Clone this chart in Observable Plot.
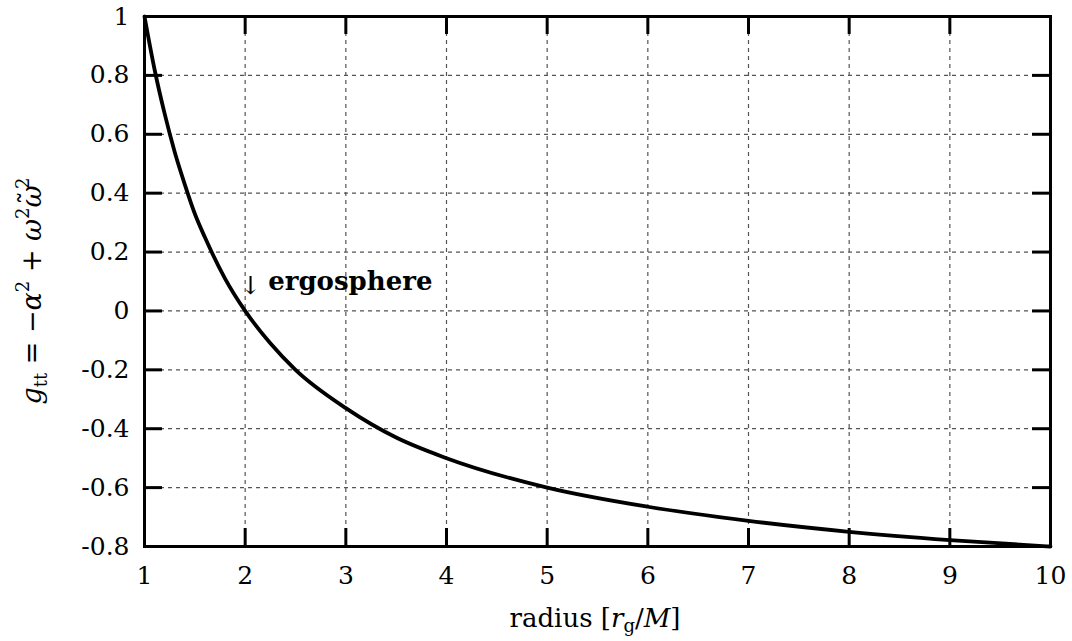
<!DOCTYPE html>
<html><head><meta charset="utf-8">
<script src="https://cdn.jsdelivr.net/npm/d3@7"></script>
<script src="https://cdn.jsdelivr.net/npm/@observablehq/plot@0.6"></script>
<style>body{margin:0;background:#fff} svg text{font-family:"DejaVu Serif",serif !important}</style>
</head><body><div id="chart"></div>
<script>
const radius = [1, 1.1, 1.2, 1.3, 1.4, 1.5, 1.6, 1.8, 2, 2.25, 2.5, 3, 3.5, 4, 5, 6, 7, 8, 9, 10];
const gtt = [1, 0.82, 0.67, 0.54, 0.43, 0.33, 0.25, 0.11, 0, -0.11, -0.2, -0.33, -0.43, -0.5, -0.6, -0.665, -0.713, -0.75, -0.778, -0.8];
const xTicks = [1, 2, 3, 4, 5, 6, 7, 8, 9, 10];
const yTicks = [-0.8, -0.6, -0.4, -0.2, 0, 0.2, 0.4, 0.6, 0.8, 1];
const yTickLabels = ["-0.8", "-0.6", "-0.4", "-0.2", "0", "0.2", "0.4", "0.6", "0.8", "1"];
const annotation = [{x: 2, y: 0.1, arrow: "↓", word: "ergosphere"}];

const data = radius.map((r, i) => ({r, g: gtt[i]}));
const W = 1072, H = 641, mL = 144, mR = 22, mT = 16, mB = 95;
const pw = W - mL - mR, ph = H - mT - mB, tl = 18;
const serif = "DejaVu Serif";

const plot = Plot.plot({
  width: W, height: H,
  marginLeft: mL, marginRight: mR, marginTop: mT, marginBottom: mB,
  style: {fontFamily: serif, background: "#fff", color: "#000"},
  x: {domain: [1, 10], ticks: xTicks},
  y: {domain: [-0.8, 1], ticks: yTicks},
  marks: [
    Plot.gridX(xTicks, {stroke: "#555", strokeOpacity: 1, strokeWidth: 1.2, strokeDasharray: "4,4"}),
    Plot.gridY(yTicks, {stroke: "#555", strokeOpacity: 1, strokeWidth: 1.2, strokeDasharray: "4,4"}),
    Plot.tickX(xTicks, {x: d => d, insetTop: ph - tl, stroke: "#000", strokeWidth: 3}),
    Plot.tickX(xTicks, {x: d => d, insetBottom: ph - tl, stroke: "#000", strokeWidth: 3}),
    Plot.tickY(yTicks, {y: d => d, insetRight: pw - tl, stroke: "#000", strokeWidth: 3}),
    Plot.tickY(yTicks, {y: d => d, insetLeft: pw - tl, stroke: "#000", strokeWidth: 3}),
    Plot.axisX(xTicks, {tickSize: 0, tickPadding: 20, fontSize: 25, fontFamily: serif, label: null}),
    Plot.axisY(yTicks, {tickSize: 0, tickPadding: 15, fontSize: 25, fontFamily: serif, label: null,
      tickFormat: d => yTickLabels[yTicks.indexOf(d)]}),
    Plot.line(data, {x: "r", y: "g", curve: "monotone-x", stroke: "#000", strokeWidth: 3.8}),
    Plot.text(annotation, {x: "x", y: "y", text: "arrow", textAnchor: "start", dx: -5, dy: 4,
      fontSize: 25, fontFamily: serif, fill: "#000"}),
    Plot.text(annotation, {x: "x", y: "y", text: "word", textAnchor: "start", dx: 23,
      fontSize: 26, fontWeight: "bold", fontFamily: serif, fill: "#000"}),
    Plot.frame({stroke: "#000", strokeWidth: 3})
  ]
});
document.getElementById("chart").appendChild(plot);

const svg = d3.select(plot);
const xl = svg.append("text").attr("x", 595).attr("y", 627)
  .attr("text-anchor", "middle").attr("font-size", 26).attr("font-family", serif).attr("fill", "#000");
xl.append("tspan").text("radius [");
xl.append("tspan").attr("font-style", "italic").text("r");
xl.append("tspan").attr("font-size", 18).attr("dy", 5).text("g");
xl.append("tspan").attr("dy", -5).text("/");
xl.append("tspan").attr("font-style", "italic").text("M");
xl.append("tspan").text("]");

const yl = svg.append("text").attr("transform", `translate(41,291) rotate(-90)`)
  .attr("text-anchor", "middle").attr("font-size", 27).attr("font-family", serif).attr("fill", "#000");
yl.append("tspan").attr("font-style", "italic").text("g");
yl.append("tspan").attr("font-size", 18).attr("dy", 6).text("tt");
yl.append("tspan").attr("dy", -6).text(" = −");
yl.append("tspan").attr("font-style", "italic").text("α");
yl.append("tspan").attr("font-size", 18).attr("dy", -12).text("2");
yl.append("tspan").attr("dy", 12).text(" + ");
yl.append("tspan").attr("font-style", "italic").text("ω");
yl.append("tspan").attr("font-size", 18).attr("dy", -12).text("2");
yl.append("tspan").attr("dy", 12).attr("font-style", "italic").text("ω");
yl.append("tspan").attr("dx", -19).attr("dy", -2).text("˜");
yl.append("tspan").attr("font-size", 18).attr("dx", 2).attr("dy", -10).text("2");
</script></body></html>
